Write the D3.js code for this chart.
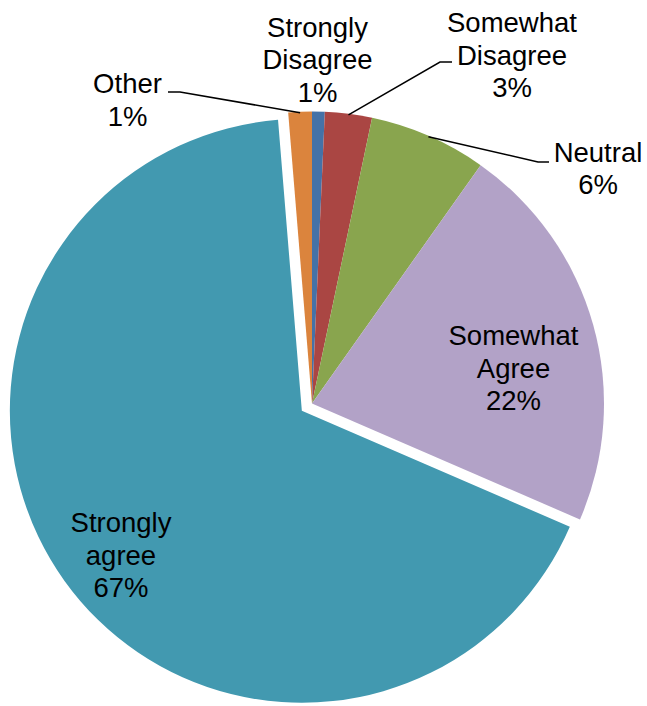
<!DOCTYPE html>
<html>
<head>
<meta charset="utf-8">
<script src="https://cdn.jsdelivr.net/npm/d3@7"></script>
<style>
  html, body { margin: 0; padding: 0; background: #fff; }
  svg { display: block; }
  text { font-family: "Liberation Sans", Arial, sans-serif; fill: #000; }
</style>
</head>
<body>
<svg id="chart" width="647" height="706"></svg>
<script>
// ---- data ----
const categories = ["Strongly Disagree", "Somewhat Disagree", "Neutral", "Somewhat Agree", "Strongly agree", "Other"];
const labelLines = [["Strongly", "Disagree"], ["Somewhat", "Disagree"], ["Neutral"], ["Somewhat", "Agree"], ["Strongly", "agree"], ["Other"]];
const values = [0.7, 2.6, 6.5, 21.7, 67.2, 1.3];
const percentLabels = ["1%", "3%", "6%", "22%", "67%", "1%"];
const colors = ["#4572A7", "#AA4643", "#89A54E", "#B2A2C7", "#4299B0", "#DB843D"];
const exploded = [false, false, false, false, true, false];

// ---- layout ----
const cx = 312, cy = 403.5, R = 292, explode = 12.5;
const fontSize = 27.5, lineH = 32.5;

const svg = d3.select("#chart");
const g = svg.append("g").attr("transform", `translate(${cx},${cy})`);

const pie = d3.pie().sort(null).value(d => d).startAngle(0).endAngle(2 * Math.PI);
const arcs = pie(values);
const arc = d3.arc().innerRadius(0).outerRadius(R);

function offsetOf(a, dist) {
  const m = (a.startAngle + a.endAngle) / 2;
  return [Math.sin(m) * dist, -Math.cos(m) * dist];
}

g.selectAll("path.slice").data(arcs).join("path")
  .attr("class", "slice")
  .attr("d", arc)
  .attr("fill", (d, i) => colors[i])
  .attr("transform", (d, i) => {
    if (!exploded[i]) return null;
    const [ox, oy] = offsetOf(d, explode);
    return `translate(${ox},${oy})`;
  });

// label placements (label center x, first baseline y in page coords; leader elbow)
const labelPos = [
  { x: 317.5, y: 36.5, leader: null },
  { x: 512, y: 32, leader: { ex: 440, ey: 62, hx: 452 } },
  { x: 598, y: 161.5, leader: { ex: 538, ey: 162, hx: 549 } },
  { x: 513.5, y: 345, leader: null },
  { x: 121, y: 532, leader: null },
  { x: 127.5, y: 93, leader: { ex: 180, ey: 92, hx: 168 } }
];

const labels = svg.append("g");
arcs.forEach((a, i) => {
  const p = labelPos[i];
  const lines = labelLines[i].concat([percentLabels[i]]);
  const t = labels.append("text")
    .attr("text-anchor", "middle")
    .attr("font-size", fontSize);
  lines.forEach((ln, k) => {
    t.append("tspan").attr("x", p.x).attr("y", p.y + k * lineH).text(ln);
  });
  if (p.leader) {
    const m = (a.startAngle + a.endAngle) / 2;
    const px = cx + Math.sin(m) * (R - 1);
    const py = cy - Math.cos(m) * (R - 1);
    labels.append("path")
      .attr("d", `M${p.leader.hx},${p.leader.ey}L${p.leader.ex},${p.leader.ey}L${px},${py}`)
      .attr("fill", "none")
      .attr("stroke", "#000")
      .attr("stroke-width", 1.5);
  }
});
</script>
</body>
</html>
